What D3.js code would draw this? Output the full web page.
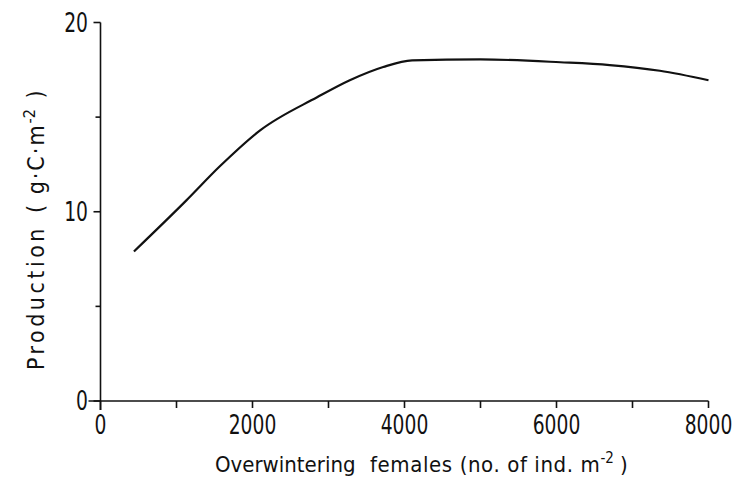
<!DOCTYPE html>
<html>
  <head>
    <meta charset="utf-8" />
    <title>Production vs overwintering females</title>
    <script src="https://d3js.org/d3.v7.min.js"></script>
    <style>
      body { margin: 0; background: #fff; }
      text { font-family: "DejaVu Sans Condensed", "DejaVu Sans", sans-serif; fill: #111; }
      .axis line { stroke: #111; stroke-width: 1.6px; }
      .curve { fill: none; stroke: #111; stroke-width: 2.2px; stroke-linejoin: round; }
    </style>
  </head>
  <body>
    <svg width="733" height="482"></svg>
  <script>
    // values
    var females = [440, 1130, 1570, 2100, 2850, 3280, 3720, 4100, 5000, 6050, 6700, 7360, 8000];
    var production = [7.9, 10.6, 12.4, 14.3, 16.05, 16.95, 17.65, 18.0, 18.05, 17.9, 17.75, 17.45, 16.95];
    var xTicks = [0, 1000, 2000, 3000, 4000, 5000, 6000, 7000, 8000];
    var xTickLabels = ["0", "", "2000", "", "4000", "", "6000", "", "8000"];
    var yTicks = [0, 5, 10, 15, 20];
    var yTickLabels = ["0", "", "10", "", "20"];

    var svg = d3.select("svg");
    var x = d3.scaleLinear().domain([0, 8000]).range([100.5, 708.5]);
    var y = d3.scaleLinear().domain([0, 20]).range([401, 22.5]);

    // x axis
    var gx = svg.append("g").attr("class", "axis");
    gx.append("line")
      .attr("x1", x(0) - 12).attr("x2", x(8000))
      .attr("y1", y(0)).attr("y2", y(0));
    gx.selectAll(".tk").data(xTicks).enter().append("line")
      .attr("x1", function(d) { return x(d); }).attr("x2", function(d) { return x(d); })
      .attr("y1", y(0)).attr("y2", function(d, i) { return y(0) + (i == 0 ? 9 : 7); });
    gx.selectAll(".lb").data(xTicks).enter().append("text")
      .attr("transform", function(d) { return "translate(" + x(d) + ",434) scale(0.8,1)"; })
      .attr("text-anchor", "middle")
      .style("font-size", "26px")
      .text(function(d, i) { return xTickLabels[i]; });

    // y axis
    var gy = svg.append("g").attr("class", "axis");
    gy.append("line")
      .attr("x1", x(0)).attr("x2", x(0))
      .attr("y1", y(20)).attr("y2", y(0) + 9);
    gy.selectAll(".tk").data(yTicks).enter().append("line")
      .attr("x1", x(0)).attr("x2", function(d, i) { return x(0) - (i % 2 == 0 ? 7 : 5); })
      .attr("y1", function(d) { return y(d); }).attr("y2", function(d) { return y(d); });
    gy.selectAll(".lb").data(yTicks).enter().append("text")
      .attr("transform", function(d) { return "translate(88," + (y(d) + 9) + ") scale(0.8,1)"; })
      .attr("text-anchor", "end")
      .style("font-size", "26px")
      .text(function(d, i) { return yTickLabels[i]; });

    // curve
    var pts = females.map(function(d, i) { return [d, production[i]]; });
    var line = d3.line()
      .x(function(d) { return x(d[0]); })
      .y(function(d) { return y(d[1]); })
      .curve(d3.curveMonotoneX);
    svg.append("path").datum(pts).attr("class", "curve").attr("d", line);

    // axis titles
    var xt = svg.append("text")
      .attr("x", 215).attr("y", 472)
      .style("font-size", "22px");
    xt.append("tspan").text("Overwintering");
    xt.append("tspan").attr("x", 370).style("letter-spacing", "0.6px").text("females (no. of ind. m");
    xt.append("tspan").attr("dy", -9).style("font-size", "15px").text("-2");
    xt.append("tspan").attr("dy", 9).attr("dx", 6).text(")");

    var yt = svg.append("text")
      .attr("transform", "translate(44,370) rotate(-90)")
      .style("font-size", "23px")
      .attr("xml:space", "preserve");
    yt.append("tspan").style("letter-spacing", "3.5px").text("Production");
    yt.append("tspan").attr("dx", 12).style("letter-spacing", "2px").text("( g·C·m");
    yt.append("tspan").attr("dy", -9).style("font-size", "16px").text("-2");
    yt.append("tspan").attr("dy", 9).attr("dx", 4).text(" )");
  </script>
</body>
</html>
